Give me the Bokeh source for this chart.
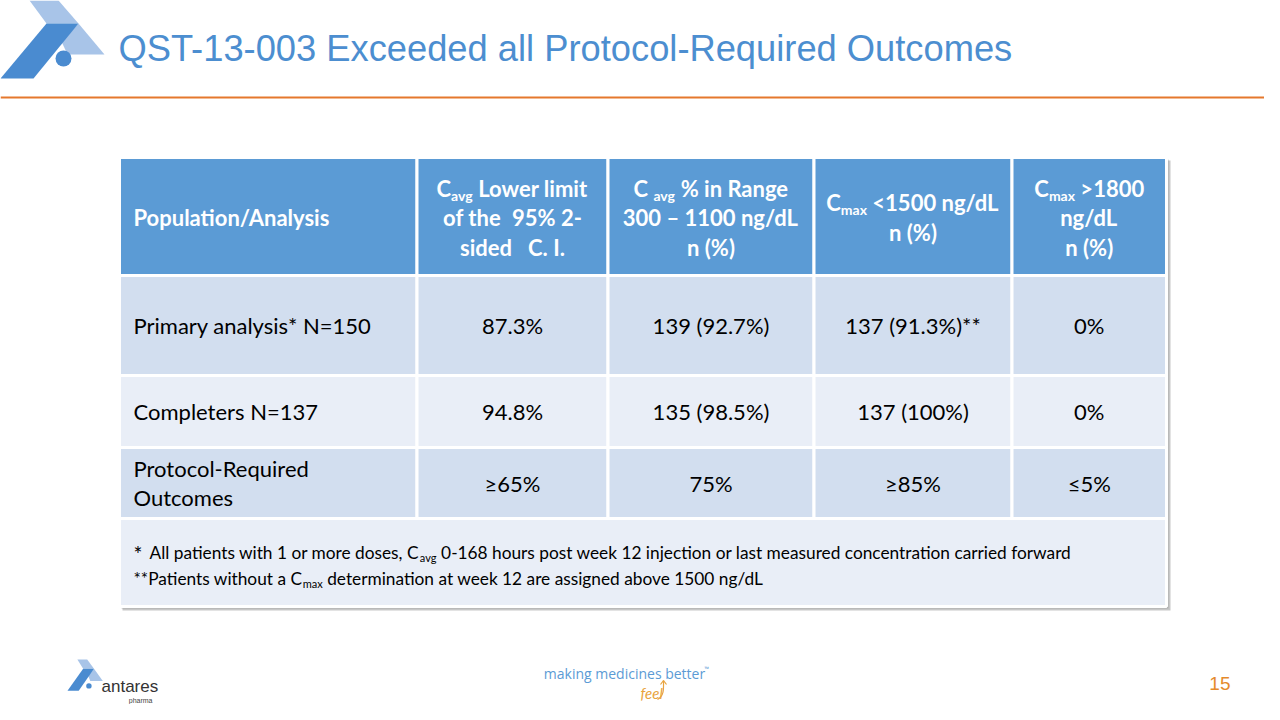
import glob
import os
import re
import struct

from bokeh.plotting import figure
from bokeh.models import Range1d
from bokeh.core.properties import value
from bokeh.embed import file_html
from bokeh.resources import INLINE

# ---------------- data ----------------
title = "QST-13-003 Exceeded all Protocol-Required Outcomes"
row_labels = ["Primary analysis* N=150", "Completers N=137", "Protocol-Required\nOutcomes"]
cavg_lower_ci = ["87.3%", "94.8%", "\u226565%"]
cavg_in_range = ["139 (92.7%)", "135 (98.5%)", "75%"]
cmax_lt_1500 = ["137 (91.3%)**", "137 (100%)", "\u226585%"]
cmax_gt_1800 = ["0%", "0%", "\u22645%"]
# header lines: list of segments (text, is_subscript)
header = [
    [[("Population/Analysis", False)]],
    [[("C", False), ("avg", True), (" Lower limit", False)],
     [("of the  95% 2-", False)],
     [("sided   C. I.", False)]],
    [[("C ", False), ("avg", True), (" % in Range", False)],
     [("300 \u2013 1100 ng/dL", False)],
     [("n (%)", False)]],
    [[("C", False), ("max", True), (" <1500 ng/dL", False)],
     [("n (%)", False)]],
    [[("C", False), ("max", True), (" >1800", False)],
     [("ng/dL", False)],
     [("n (%)", False)]],
]
footnote_star = "*"
footnotes = [
    [("All patients with 1 or more doses, C", False), ("avg", True),
     (" 0-168 hours post week 12 injection or last measured concentration carried forward", False)],
    [("**Patients without a C", False), ("max", True),
     (" determination at week 12 are assigned above 1500 ng/dL", False)],
]
page_number = "15"


# ---------------- text measuring (reads advance widths from the font file) ----------------
def _find_font(names):
    roots = ["/usr/share/fonts", "/usr/local/share/fonts", os.path.expanduser("~/.fonts"),
             os.path.expanduser("~/.local/share/fonts")]
    for n in names:
        for r in roots:
            hits = glob.glob(os.path.join(r, "**", n), recursive=True)
            if hits:
                return hits[0]
    return None


def _load_metrics(path):
    try:
        data = open(path, "rb").read()
        num = struct.unpack(">H", data[4:6])[0]
        tabs = {}
        for i in range(num):
            tag, _cs, off, ln = struct.unpack(">4sIII", data[12 + 16 * i:28 + 16 * i])
            tabs[tag.decode("latin1")] = off
        upem = struct.unpack(">H", data[tabs["head"] + 18:tabs["head"] + 20])[0]
        nhm = struct.unpack(">H", data[tabs["hhea"] + 34:tabs["hhea"] + 36])[0]
        ho = tabs["hmtx"]
        adv = [struct.unpack(">H", data[ho + 4 * i:ho + 4 * i + 2])[0] for i in range(nhm)]
        co = tabs["cmap"]
        ncm = struct.unpack(">H", data[co + 2:co + 4])[0]
        subs = {}
        for i in range(ncm):
            pid, eid, off = struct.unpack(">HHI", data[co + 4 + 8 * i:co + 12 + 8 * i])
            subs[(pid, eid)] = co + off
        cmap = {}
        if (3, 10) in subs:
            so = subs[(3, 10)]
            ng = struct.unpack(">I", data[so + 12:so + 16])[0]
            for g in range(ng):
                sc, ec, sg = struct.unpack(">III", data[so + 16 + 12 * g:so + 28 + 12 * g])
                for c in range(sc, ec + 1):
                    cmap[c] = sg + c - sc
        elif (3, 1) in subs:
            so = subs[(3, 1)]
            segx2 = struct.unpack(">H", data[so + 6:so + 8])[0]
            seg = segx2 // 2
            ends = struct.unpack(">%dH" % seg, data[so + 14:so + 14 + segx2])
            starts = struct.unpack(">%dH" % seg, data[so + 16 + segx2:so + 16 + 2 * segx2])
            deltas = struct.unpack(">%dh" % seg, data[so + 16 + 2 * segx2:so + 16 + 3 * segx2])
            ro_base = so + 16 + 3 * segx2
            ros = struct.unpack(">%dH" % seg, data[ro_base:ro_base + segx2])
            for s in range(seg):
                for c in range(starts[s], ends[s] + 1):
                    if c == 0xFFFF:
                        continue
                    if ros[s] == 0:
                        g = (c + deltas[s]) & 0xFFFF
                    else:
                        a = ro_base + 2 * s + ros[s] + 2 * (c - starts[s])
                        g = struct.unpack(">H", data[a:a + 2])[0]
                        if g:
                            g = (g + deltas[s]) & 0xFFFF
                    cmap[c] = g
        return upem, adv, cmap
    except Exception:
        return None


_METRICS = {}
for key, names in {"regular": ["Lato-Regular.ttf"], "bold": ["Lato-Bold.ttf"]}.items():
    path = _find_font(names)
    _METRICS[key] = _load_metrics(path) if path else None


def text_width(s, size, style="regular"):
    m = _METRICS.get(style)
    if not m:
        return len(s) * size * (0.53 if style == "bold" else 0.5)
    upem, adv, cmap = m
    tot = 0
    for ch in s:
        g = cmap.get(ord(ch), 0)
        tot += adv[g] if g < len(adv) else adv[-1]
    return tot * size / upem


def place_segment(t, x, size, style, out_x, out_t):
    """Split a segment on runs of spaces longer than one (SVG collapses them) and at its edges;
    append the pieces with explicit x positions; return the advanced x."""
    pieces = re.split(r"(^ +| {2,}| +$)", t)
    for piece in pieces:
        if not piece:
            continue
        if piece.strip() == "":
            x += text_width(piece, size, style)
        else:
            out_x.append(x); out_t.append(piece)
            x += text_width(piece, size, style)
    return x


# ---------------- layout ----------------
W, H = 1264, 704
p = figure(width=W, height=H, x_range=Range1d(0, W), y_range=Range1d(H, 0),
           output_backend="svg", toolbar_location=None, min_border=0,
           x_axis_location=None, y_axis_location=None)
p.grid.visible = False
p.outline_line_color = None
p.background_fill_color = "white"
p.border_fill_color = "white"

BODY = value("Lato")
HEAD_BLUE = "#5B9BD5"
ROW_DARK = "#D2DEEF"
ROW_LIGHT = "#E9EEF7"


def draw_logo(ox, oy, kx, ky, cy=58):
    light = "#A8C4E8"
    dark = "#4A8BD0"
    p.patch([ox + kx * v for v in [29, 58, 78, 46]], [oy + ky * v for v in [0, 0, 23, 23]],
            fill_color=light, line_color=None)
    p.patch([ox + kx * v for v in [78, 104, 67, 61]], [oy + ky * v for v in [23, 54, 54, 41]],
            fill_color=light, line_color=None)
    p.patch([ox + kx * v for v in [46, 78, 33, 0]], [oy + ky * v for v in [23, 23, 78, 78]],
            fill_color=dark, line_color=None)
    r = 16 * min(kx, ky)
    p.ellipse(x=[ox + kx * 63], y=[oy + ky * cy], width=r, height=r,
              fill_color=dark, line_color=None)


draw_logo(0, 0, 1.0, 1.0)

# title
p.text(x=[118], y=[48], text=[title], text_font=value("Liberation Sans"),
       text_font_size="36.3px", text_color="#4C8ED0", text_baseline="middle")
# orange rule
p.line(x=[0, 1280], y=[97, 97], line_color="#E5782D", line_width=2)

# --- table ---
col_edges = [119, 416.5, 607.5, 813.5, 1011.5, 1166]
row_edges = [157, 275, 375, 447, 518, 606]

# shadow
p.quad(left=[122], right=[1170], top=[160], bottom=[610], fill_color="#8F8F8F",
       fill_alpha=0.5, line_color=None)
p.quad(left=[121], right=[1168], top=[159], bottom=[608], fill_color="#8F8F8F",
       fill_alpha=0.5, line_color=None)

lefts, rights, tops, bottoms, colors = [], [], [], [], []
row_fill = [HEAD_BLUE, ROW_DARK, ROW_LIGHT, ROW_DARK]
for r in range(4):
    for c in range(5):
        lefts.append(col_edges[c]); rights.append(col_edges[c + 1])
        tops.append(row_edges[r]); bottoms.append(row_edges[r + 1])
        colors.append(row_fill[r])
lefts.append(col_edges[0]); rights.append(col_edges[-1])
tops.append(row_edges[4]); bottoms.append(row_edges[5]); colors.append(ROW_LIGHT)
p.quad(left=lefts, right=rights, top=tops, bottom=bottoms, fill_color=colors,
       line_color="white", line_width=3)

centers = [(col_edges[i] + col_edges[i + 1]) / 2 for i in range(5)]

# header texts
HEAD_PX = 22
SUB_PX = 14
LINE_H = 29.5
head_mid = (row_edges[0] + row_edges[1]) / 2 + 1
nx, ny, nt = [], [], []
sx, sy, st = [], [], []
for ci, lines in enumerate(header):
    n = len(lines)
    y0 = head_mid - (n - 1) * LINE_H / 2
    for li, segs in enumerate(lines):
        y = y0 + li * LINE_H
        widths = [text_width(t, SUB_PX if sub else HEAD_PX, "bold") for t, sub in segs]
        if ci == 0:
            x = col_edges[0] + 14
        else:
            x = centers[ci] - sum(widths) / 2
        for t, sub in segs:
            if sub:
                k = len(sx)
                x = place_segment(t, x, SUB_PX, "bold", sx, st)
                sy.extend([y + 7] * (len(sx) - k))
            else:
                k = len(nx)
                x = place_segment(t, x, HEAD_PX, "bold", nx, nt)
                ny.extend([y] * (len(nx) - k))
p.text(x=nx, y=ny, text=nt, text_align="left", text_baseline="middle", text_font=BODY,
       text_font_size="%dpx" % HEAD_PX, text_font_style="bold", text_color="white")
p.text(x=sx, y=sy, text=st, text_align="left", text_baseline="middle", text_font=BODY,
       text_font_size="%dpx" % SUB_PX, text_font_style="bold", text_color="white")

# body texts
BODY_PX = 22
bx, by, bt, ba = [], [], [], []
columns = [row_labels, cavg_lower_ci, cavg_in_range, cmax_lt_1500, cmax_gt_1800]
for r in range(3):
    ymid = (row_edges[r + 1] + row_edges[r + 2]) / 2
    for c, col in enumerate(columns):
        parts = col[r].split("\n")
        for k, part in enumerate(parts):
            y = ymid + (k - (len(parts) - 1) / 2) * 28.5
            if c == 0:
                bx.append(col_edges[0] + 14); ba.append("left")
            else:
                bx.append(centers[c]); ba.append("center")
            by.append(y); bt.append(part)
p.text(x=bx, y=by, text=bt, text_align=ba, text_baseline="middle", text_font=BODY,
       text_font_size="%dpx" % BODY_PX, text_color="black")

# footnotes
FN_PX = 17.3
FN_SUB_PX = 11
fn_y = [552, 578]
fn_x0 = [149, 133]
p.text(x=[133], y=[fn_y[0] + 1], text=[footnote_star], text_font=BODY, text_font_size="21px",
       text_baseline="middle", text_color="black")
fx, fy, ft, gx, gy, gt = [], [], [], [], [], []
for li, segs in enumerate(footnotes):
    x = fn_x0[li]
    for t, sub in segs:
        if sub:
            k = len(gx)
            x = place_segment(t, x, FN_SUB_PX, "regular", gx, gt)
            gy.extend([fn_y[li] + 5] * (len(gx) - k))
        else:
            k = len(fx)
            x = place_segment(t, x, FN_PX, "regular", fx, ft)
            fy.extend([fn_y[li]] * (len(fx) - k))
p.text(x=fx, y=fy, text=ft, text_align="left", text_baseline="middle", text_font=BODY,
       text_font_size="%.1fpx" % FN_PX, text_color="black")
p.text(x=gx, y=gy, text=gt, text_align="left", text_baseline="middle", text_font=BODY,
       text_font_size="%dpx" % FN_SUB_PX, text_color="black")

# --- footer ---
draw_logo(67, 659, 0.34, 0.40, cy=66)
p.text(x=[101], y=[686], text=["antares"], text_font=value("Liberation Sans"),
       text_font_size="17px", text_baseline="middle", text_color="#333333")
p.text(x=[152], y=[700], text=["pharma"], text_font=value("Liberation Sans"),
       text_font_size="7px", text_align="right", text_baseline="middle", text_color="#444444")

p.text(x=[624], y=[673], text=["making medicines better"], text_font=value("Open Sans"),
       text_font_size="14px", text_align="center", text_baseline="middle", text_color="#5B9BD5")
p.text(x=[704], y=[668], text=["\u2122"], text_font=value("Open Sans"),
       text_font_size="6px", text_align="left", text_baseline="middle", text_color="#5B9BD5")
p.text(x=[640], y=[692], text=["feel"], text_font=value("Lato"), text_font_style="italic",
       text_font_size="15px", text_align="left", text_baseline="middle", text_color="#E8A33D")
p.bezier(x0=[657], y0=[699], x1=[663], y1=[680], cx0=[664], cy0=[695], cx1=[663], cy1=[688],
         line_color="#E8A33D", line_width=1.2)
p.line(x=[660, 663, 666], y=[684, 680, 684], line_color="#E8A33D", line_width=1.2)

p.text(x=[1230], y=[683], text=[page_number], text_font=value("Liberation Sans"),
       text_font_size="19px", text_align="right", text_baseline="middle", text_color="#E58A2C")

open("out.html", "w").write(file_html(p, INLINE))
